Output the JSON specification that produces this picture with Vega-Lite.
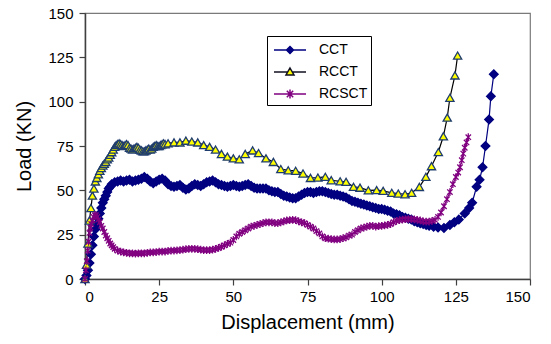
{
  "$schema": "https://vega.github.io/schema/vega-lite/v6.json",
  "width": 445,
  "height": 266,
  "autosize": {"type": "none"},
  "padding": {"left": 85, "top": 13, "right": 21, "bottom": 65},
  "background": "white",
  "config": {
    "view": {"stroke": "#7a7a7a", "strokeWidth": 1.2},
    "axis": {
      "labelFont": "Liberation Sans", "titleFont": "Liberation Sans",
      "labelColor": "#000", "titleColor": "#000",
      "labelFontSize": 15, "titleFontSize": 20, "titleFontWeight": "normal",
      "domainColor": "#404040", "domainWidth": 1.5,
      "tickColor": "#404040", "tickSize": 6, "tickWidth": 1.2,
      "grid": false
    },
    "legend": {"labelFont": "Liberation Sans", "labelFontSize": 14, "labelColor": "#000"}
  },
  "data": {"values": [
    {"s":"CCT","x":0,"y":0},{"s":"CCT","x":0.5,"y":2},{"s":"CCT","x":1,"y":5},{"s":"CCT","x":1.5,"y":9},{"s":"CCT","x":2,"y":14},{"s":"CCT","x":2.5,"y":19},{"s":"CCT","x":3,"y":24},{"s":"CCT","x":3.5,"y":28},{"s":"CCT","x":4,"y":31},{"s":"CCT","x":4.5,"y":34},{"s":"CCT","x":5,"y":37},{"s":"CCT","x":5.5,"y":40},{"s":"CCT","x":6,"y":43},{"s":"CCT","x":6.5,"y":45},{"s":"CCT","x":7,"y":47},{"s":"CCT","x":7.5,"y":49},{"s":"CCT","x":8,"y":51},{"s":"CCT","x":8.5,"y":52},{"s":"CCT","x":9,"y":53.5},{"s":"CCT","x":10,"y":54.5},
    {"s":"CCT","x":11,"y":55},{"s":"CCT","x":12,"y":55.5},{"s":"CCT","x":13,"y":55},{"s":"CCT","x":14,"y":55.5},{"s":"CCT","x":15,"y":56},{"s":"CCT","x":16,"y":55},{"s":"CCT","x":17,"y":55.5},{"s":"CCT","x":18,"y":56},{"s":"CCT","x":19,"y":56.5},{"s":"CCT","x":20,"y":57.5},{"s":"CCT","x":21,"y":56.5},{"s":"CCT","x":22,"y":55},{"s":"CCT","x":23,"y":54},{"s":"CCT","x":24,"y":55},{"s":"CCT","x":25,"y":56},{"s":"CCT","x":26,"y":56.5},{"s":"CCT","x":27,"y":55.5},{"s":"CCT","x":28,"y":53.5},{"s":"CCT","x":29,"y":52.5},{"s":"CCT","x":30,"y":52},
    {"s":"CCT","x":31,"y":52.5},{"s":"CCT","x":32,"y":53},{"s":"CCT","x":33,"y":51.5},{"s":"CCT","x":34,"y":50.5},{"s":"CCT","x":35,"y":51},{"s":"CCT","x":36,"y":52.5},{"s":"CCT","x":37,"y":53.5},{"s":"CCT","x":38,"y":53},{"s":"CCT","x":39,"y":52.5},{"s":"CCT","x":40,"y":53.5},{"s":"CCT","x":41,"y":54.5},{"s":"CCT","x":42,"y":55},{"s":"CCT","x":43,"y":55.5},{"s":"CCT","x":44,"y":54.5},{"s":"CCT","x":45,"y":53.5},{"s":"CCT","x":46,"y":53},{"s":"CCT","x":47,"y":52.5},{"s":"CCT","x":48,"y":52},{"s":"CCT","x":49,"y":52.5},{"s":"CCT","x":50,"y":53},
    {"s":"CCT","x":51,"y":52.5},{"s":"CCT","x":52,"y":52},{"s":"CCT","x":53,"y":52.5},{"s":"CCT","x":54,"y":53},{"s":"CCT","x":55,"y":53.5},{"s":"CCT","x":56,"y":52.5},{"s":"CCT","x":57,"y":51.5},{"s":"CCT","x":58,"y":51},{"s":"CCT","x":59,"y":51},{"s":"CCT","x":60,"y":51},{"s":"CCT","x":61,"y":51},{"s":"CCT","x":62,"y":50},{"s":"CCT","x":63,"y":49.5},{"s":"CCT","x":64,"y":49},{"s":"CCT","x":65,"y":49},{"s":"CCT","x":66,"y":48},{"s":"CCT","x":67,"y":47},{"s":"CCT","x":68,"y":46.5},{"s":"CCT","x":69,"y":46},{"s":"CCT","x":70,"y":45.5},
    {"s":"CCT","x":71,"y":45.5},{"s":"CCT","x":72,"y":46.5},{"s":"CCT","x":73,"y":47.5},{"s":"CCT","x":74,"y":48.5},{"s":"CCT","x":75,"y":49},{"s":"CCT","x":76,"y":49},{"s":"CCT","x":77,"y":48.5},{"s":"CCT","x":78,"y":49},{"s":"CCT","x":79,"y":49.5},{"s":"CCT","x":80,"y":49.5},{"s":"CCT","x":81,"y":49},{"s":"CCT","x":82,"y":48.5},{"s":"CCT","x":83,"y":48},{"s":"CCT","x":84,"y":47.5},{"s":"CCT","x":85,"y":47.5},{"s":"CCT","x":86,"y":47},{"s":"CCT","x":87,"y":46.5},{"s":"CCT","x":88,"y":46},{"s":"CCT","x":89,"y":45},{"s":"CCT","x":90,"y":44},
    {"s":"CCT","x":91,"y":43.5},{"s":"CCT","x":92,"y":43},{"s":"CCT","x":93,"y":42.5},{"s":"CCT","x":94,"y":42},{"s":"CCT","x":95,"y":41.5},{"s":"CCT","x":96,"y":41},{"s":"CCT","x":97,"y":40.5},{"s":"CCT","x":98,"y":40},{"s":"CCT","x":99,"y":39.5},{"s":"CCT","x":100,"y":39.5},{"s":"CCT","x":101,"y":39},{"s":"CCT","x":102,"y":38.5},{"s":"CCT","x":103,"y":38},{"s":"CCT","x":104,"y":37},{"s":"CCT","x":105,"y":36.5},{"s":"CCT","x":106,"y":36},{"s":"CCT","x":107,"y":35},{"s":"CCT","x":108,"y":34.5},{"s":"CCT","x":109,"y":34},{"s":"CCT","x":110,"y":33.5},
    {"s":"CCT","x":111,"y":32.5},{"s":"CCT","x":112,"y":32},{"s":"CCT","x":113,"y":31.5},{"s":"CCT","x":114,"y":31},{"s":"CCT","x":115,"y":30.5},{"s":"CCT","x":116,"y":30},{"s":"CCT","x":117.5,"y":29.5},{"s":"CCT","x":119,"y":29},{"s":"CCT","x":121,"y":28.8},{"s":"CCT","x":123,"y":30.5},{"s":"CCT","x":124.5,"y":32},{"s":"CCT","x":126,"y":33.5},{"s":"CCT","x":128,"y":37},{"s":"CCT","x":129.5,"y":40},{"s":"CCT","x":130.5,"y":43},{"s":"CCT","x":132,"y":52},{"s":"CCT","x":133,"y":56},{"s":"CCT","x":134,"y":63},{"s":"CCT","x":135,"y":75},{"s":"CCT","x":136.2,"y":90},{"s":"CCT","x":136.8,"y":103},{"s":"CCT","x":137.8,"y":115.5},

    {"s":"RCCT","x":0,"y":0},{"s":"RCCT","x":0.5,"y":8},{"s":"RCCT","x":1,"y":20},{"s":"RCCT","x":1.5,"y":33},{"s":"RCCT","x":2,"y":40},{"s":"RCCT","x":2.5,"y":47},{"s":"RCCT","x":3,"y":51},{"s":"RCCT","x":3.5,"y":55},{"s":"RCCT","x":4,"y":57},{"s":"RCCT","x":4.5,"y":59},{"s":"RCCT","x":5,"y":61},{"s":"RCCT","x":5.5,"y":62.5},{"s":"RCCT","x":6,"y":64},{"s":"RCCT","x":6.5,"y":65},{"s":"RCCT","x":7,"y":66},{"s":"RCCT","x":7.5,"y":67.5},{"s":"RCCT","x":8,"y":68.5},{"s":"RCCT","x":8.5,"y":70},{"s":"RCCT","x":9,"y":71.5},{"s":"RCCT","x":9.5,"y":73},
    {"s":"RCCT","x":10,"y":74.5},{"s":"RCCT","x":10.5,"y":75.5},{"s":"RCCT","x":11,"y":76},{"s":"RCCT","x":11.5,"y":76.5},{"s":"RCCT","x":12,"y":76},{"s":"RCCT","x":12.5,"y":75.5},{"s":"RCCT","x":13,"y":75},{"s":"RCCT","x":13.5,"y":75.5},{"s":"RCCT","x":14,"y":76},{"s":"RCCT","x":14.5,"y":75.5},{"s":"RCCT","x":15,"y":74},{"s":"RCCT","x":15.5,"y":73.5},{"s":"RCCT","x":16,"y":73},{"s":"RCCT","x":16.5,"y":73.5},{"s":"RCCT","x":17,"y":74},{"s":"RCCT","x":17.5,"y":74.5},{"s":"RCCT","x":18,"y":74},{"s":"RCCT","x":18.5,"y":73},{"s":"RCCT","x":19,"y":72.5},{"s":"RCCT","x":19.5,"y":72},
    {"s":"RCCT","x":20,"y":72},{"s":"RCCT","x":20.5,"y":72.5},{"s":"RCCT","x":21,"y":73},{"s":"RCCT","x":21.5,"y":73.5},{"s":"RCCT","x":22,"y":73},{"s":"RCCT","x":22.5,"y":73.5},{"s":"RCCT","x":23,"y":74.5},{"s":"RCCT","x":23.5,"y":75},{"s":"RCCT","x":24,"y":75.5},{"s":"RCCT","x":24.5,"y":75},{"s":"RCCT","x":25,"y":75},{"s":"RCCT","x":25.5,"y":75.5},{"s":"RCCT","x":26,"y":76},{"s":"RCCT","x":26.5,"y":76.5},{"s":"RCCT","x":27,"y":76},{"s":"RCCT","x":28,"y":76.5},{"s":"RCCT","x":30,"y":77},{"s":"RCCT","x":32,"y":77},{"s":"RCCT","x":34,"y":78},{"s":"RCCT","x":36,"y":77.5},
    {"s":"RCCT","x":38,"y":77},{"s":"RCCT","x":40,"y":75.5},{"s":"RCCT","x":42,"y":74.5},{"s":"RCCT","x":44,"y":73},{"s":"RCCT","x":46,"y":70.5},{"s":"RCCT","x":48,"y":69},{"s":"RCCT","x":50,"y":68},{"s":"RCCT","x":52,"y":67.5},{"s":"RCCT","x":54,"y":70.5},{"s":"RCCT","x":56.5,"y":72.5},{"s":"RCCT","x":58.5,"y":71},{"s":"RCCT","x":61,"y":68},{"s":"RCCT","x":63.5,"y":66},{"s":"RCCT","x":66,"y":62},{"s":"RCCT","x":68.5,"y":61.3},{"s":"RCCT","x":71,"y":61},{"s":"RCCT","x":73.5,"y":59.5},{"s":"RCCT","x":76,"y":57},{"s":"RCCT","x":78.5,"y":57.2},{"s":"RCCT","x":81,"y":57.6},
    {"s":"RCCT","x":83,"y":55.7},{"s":"RCCT","x":86,"y":55.1},{"s":"RCCT","x":88,"y":54.8},{"s":"RCCT","x":90.5,"y":52},{"s":"RCCT","x":92.7,"y":51.5},{"s":"RCCT","x":95.5,"y":50},{"s":"RCCT","x":98.3,"y":50.1},{"s":"RCCT","x":100.5,"y":49.7},{"s":"RCCT","x":103.4,"y":48.6},{"s":"RCCT","x":105.6,"y":48.2},{"s":"RCCT","x":107.9,"y":47.8},{"s":"RCCT","x":110.1,"y":48.6},{"s":"RCCT","x":112.7,"y":51.9},{"s":"RCCT","x":114.9,"y":57.6},{"s":"RCCT","x":116.8,"y":63.6},{"s":"RCCT","x":119.1,"y":71.6},{"s":"RCCT","x":120.8,"y":80.5},{"s":"RCCT","x":122.1,"y":91},{"s":"RCCT","x":123,"y":102.2},{"s":"RCCT","x":124.7,"y":114.8},{"s":"RCCT","x":125.6,"y":126},

    {"s":"RCSCT","x":0,"y":0},{"s":"RCSCT","x":0.3,"y":5},{"s":"RCSCT","x":0.6,"y":10},{"s":"RCSCT","x":0.9,"y":16},{"s":"RCSCT","x":1.2,"y":21},{"s":"RCSCT","x":1.5,"y":26},{"s":"RCSCT","x":1.8,"y":29},{"s":"RCSCT","x":2.1,"y":31},{"s":"RCSCT","x":2.5,"y":33},{"s":"RCSCT","x":2.9,"y":35},{"s":"RCSCT","x":3.3,"y":36},{"s":"RCSCT","x":3.7,"y":36},{"s":"RCSCT","x":4.1,"y":35},{"s":"RCSCT","x":4.5,"y":33.5},{"s":"RCSCT","x":5,"y":32},{"s":"RCSCT","x":5.5,"y":30},{"s":"RCSCT","x":6,"y":28.5},{"s":"RCSCT","x":6.5,"y":26.5},{"s":"RCSCT","x":7,"y":24.5},{"s":"RCSCT","x":7.5,"y":23},
    {"s":"RCSCT","x":8,"y":21.5},{"s":"RCSCT","x":8.5,"y":20},{"s":"RCSCT","x":9,"y":19},{"s":"RCSCT","x":9.5,"y":18},{"s":"RCSCT","x":10,"y":17},{"s":"RCSCT","x":11,"y":16},{"s":"RCSCT","x":12,"y":15.5},{"s":"RCSCT","x":13,"y":15},{"s":"RCSCT","x":14,"y":14.8},{"s":"RCSCT","x":15,"y":14.5},{"s":"RCSCT","x":16,"y":14.5},{"s":"RCSCT","x":17,"y":14.3},{"s":"RCSCT","x":18,"y":14.5},{"s":"RCSCT","x":19,"y":14.5},{"s":"RCSCT","x":20,"y":14.5},{"s":"RCSCT","x":21,"y":14.8},{"s":"RCSCT","x":22,"y":15},{"s":"RCSCT","x":23,"y":15},{"s":"RCSCT","x":24,"y":15.2},{"s":"RCSCT","x":25,"y":15.4},
    {"s":"RCSCT","x":26,"y":15.5},{"s":"RCSCT","x":27,"y":15.5},{"s":"RCSCT","x":28,"y":15.8},{"s":"RCSCT","x":29,"y":16},{"s":"RCSCT","x":30,"y":16},{"s":"RCSCT","x":31,"y":16.2},{"s":"RCSCT","x":32,"y":16.3},{"s":"RCSCT","x":33,"y":16.5},{"s":"RCSCT","x":34,"y":16.8},{"s":"RCSCT","x":35,"y":17},{"s":"RCSCT","x":36,"y":17},{"s":"RCSCT","x":37,"y":17},{"s":"RCSCT","x":38,"y":16.8},{"s":"RCSCT","x":39,"y":16.5},{"s":"RCSCT","x":40,"y":16.3},{"s":"RCSCT","x":41,"y":16.3},{"s":"RCSCT","x":42,"y":16.3},{"s":"RCSCT","x":43,"y":16.5},{"s":"RCSCT","x":44,"y":17},{"s":"RCSCT","x":45,"y":17.5},
    {"s":"RCSCT","x":46,"y":18.2},{"s":"RCSCT","x":47,"y":19},{"s":"RCSCT","x":48,"y":19.8},{"s":"RCSCT","x":49,"y":20.5},{"s":"RCSCT","x":50,"y":22},{"s":"RCSCT","x":51,"y":24},{"s":"RCSCT","x":52,"y":25.5},{"s":"RCSCT","x":53,"y":26.5},{"s":"RCSCT","x":54,"y":27.5},{"s":"RCSCT","x":55,"y":28.5},{"s":"RCSCT","x":56,"y":29.5},{"s":"RCSCT","x":57,"y":30},{"s":"RCSCT","x":58,"y":30.5},{"s":"RCSCT","x":59,"y":31},{"s":"RCSCT","x":60,"y":31.5},{"s":"RCSCT","x":61,"y":32},{"s":"RCSCT","x":62,"y":32},{"s":"RCSCT","x":63,"y":32},{"s":"RCSCT","x":64,"y":31.5},{"s":"RCSCT","x":65,"y":31.5},
    {"s":"RCSCT","x":66,"y":32},{"s":"RCSCT","x":67,"y":32.5},{"s":"RCSCT","x":68,"y":33},{"s":"RCSCT","x":69,"y":33.2},{"s":"RCSCT","x":70,"y":33.3},{"s":"RCSCT","x":71,"y":33.2},{"s":"RCSCT","x":72,"y":32.5},{"s":"RCSCT","x":73,"y":32},{"s":"RCSCT","x":74,"y":31.5},{"s":"RCSCT","x":75,"y":30.5},{"s":"RCSCT","x":76,"y":29.5},{"s":"RCSCT","x":77,"y":28.5},{"s":"RCSCT","x":78,"y":27},{"s":"RCSCT","x":79,"y":25.7},{"s":"RCSCT","x":80,"y":24},{"s":"RCSCT","x":81,"y":23},{"s":"RCSCT","x":82,"y":22.7},{"s":"RCSCT","x":83,"y":22.5},{"s":"RCSCT","x":84,"y":22.3},{"s":"RCSCT","x":85,"y":22.3},
    {"s":"RCSCT","x":86,"y":22.5},{"s":"RCSCT","x":87,"y":23},{"s":"RCSCT","x":88,"y":23.5},{"s":"RCSCT","x":89,"y":24.5},{"s":"RCSCT","x":90,"y":25},{"s":"RCSCT","x":91,"y":26.5},{"s":"RCSCT","x":92,"y":27.5},{"s":"RCSCT","x":93,"y":28.5},{"s":"RCSCT","x":94,"y":29},{"s":"RCSCT","x":95,"y":29.5},{"s":"RCSCT","x":96,"y":30},{"s":"RCSCT","x":97,"y":30},{"s":"RCSCT","x":98,"y":29.5},{"s":"RCSCT","x":99,"y":29.8},{"s":"RCSCT","x":100,"y":30},{"s":"RCSCT","x":101,"y":30.2},{"s":"RCSCT","x":102,"y":30.5},{"s":"RCSCT","x":103,"y":31},{"s":"RCSCT","x":104,"y":32},{"s":"RCSCT","x":105,"y":32.8},
    {"s":"RCSCT","x":106,"y":33.2},{"s":"RCSCT","x":107,"y":33.5},{"s":"RCSCT","x":108,"y":33.7},{"s":"RCSCT","x":109,"y":33.8},{"s":"RCSCT","x":110,"y":33.8},{"s":"RCSCT","x":111,"y":33.6},{"s":"RCSCT","x":112,"y":33.3},{"s":"RCSCT","x":113,"y":33},{"s":"RCSCT","x":114,"y":32.5},{"s":"RCSCT","x":115,"y":32.3},{"s":"RCSCT","x":116,"y":32.4},{"s":"RCSCT","x":117,"y":32.8},{"s":"RCSCT","x":118,"y":33.3},{"s":"RCSCT","x":119,"y":35},{"s":"RCSCT","x":120,"y":37.5},{"s":"RCSCT","x":121,"y":41},{"s":"RCSCT","x":122,"y":45},{"s":"RCSCT","x":123,"y":49},{"s":"RCSCT","x":124,"y":53.5},{"s":"RCSCT","x":125,"y":57.5},
    {"s":"RCSCT","x":125.8,"y":60},{"s":"RCSCT","x":126.4,"y":63},{"s":"RCSCT","x":127,"y":67},{"s":"RCSCT","x":127.5,"y":70.7},{"s":"RCSCT","x":128,"y":74},{"s":"RCSCT","x":128.6,"y":77},{"s":"RCSCT","x":129.2,"y":80}
  ]},
  "encoding": {
    "x": {"field": "x", "type": "quantitative", "title": "Displacement (mm)",
      "scale": {"domain": [0, 150], "nice": false},
      "axis": {"values": [0, 25, 50, 75, 100, 125, 150], "labelPadding": 4, "titlePadding": 8}},
    "y": {"field": "y", "type": "quantitative", "title": "Load (KN)",
      "scale": {"domain": [0, 150], "nice": false},
      "axis": {"values": [0, 25, 50, 75, 100, 125, 150], "labelPadding": 6, "titlePadding": 13}}
  },
  "layer": [
    {
      "mark": {"type": "line", "strokeWidth": 1.2},
      "encoding": {
        "color": {"field": "s", "type": "nominal", "legend": null,
          "scale": {"domain": ["CCT", "RCCT", "RCSCT"], "range": ["#000080", "#000000", "#800080"]}},
        "order": {"field": "x", "type": "quantitative"}
      }
    },
    {
      "mark": {"type": "point", "strokeWidth": 1.3, "opacity": 1},
      "encoding": {
        "shape": {"field": "s", "type": "nominal", "legend": null,
          "scale": {"domain": ["CCT", "RCCT", "RCSCT"], "range": ["diamond", "triangle-up", "M-0.7,-0.7L0.7,0.7M-0.7,0.7L0.7,-0.7M0,-1L0,1"]}},
        "size": {"field": "s", "type": "nominal", "legend": null,
          "scale": {"domain": ["CCT", "RCCT", "RCSCT"], "range": [75, 60, 70]}},
        "fill": {"field": "s", "type": "nominal", "legend": null,
          "scale": {"domain": ["CCT", "RCCT", "RCSCT"], "range": ["#000080", "#ffff00", "#800080"]}},
        "stroke": {"field": "s", "type": "nominal", "legend": null,
          "scale": {"domain": ["CCT", "RCCT", "RCSCT"], "range": ["#000080", "#1f3c6e", "#800080"]}}
      }
    },
    {
      "transform": [{"filter": "datum.x < -1"}],
      "mark": {"type": "point", "strokeWidth": 1.5, "opacity": 1},
      "encoding": {
        "shape": {"field": "s", "type": "nominal", "title": null,
          "scale": {"domain": ["CCT", "RCCT", "RCSCT"], "range": [
            "M-1.6,0L-0.35,0M0.35,0L1.6,0M0,-0.35L0.35,0L0,0.35L-0.35,0Z",
            "M-1.6,0L-0.23,0M0.23,0L1.6,0M0,-0.4L0.4,0.3L-0.4,0.3Z",
            "M-1.6,0L1.6,0M-0.32,-0.32L0.32,0.32M-0.32,0.32L0.32,-0.32M0,-0.45L0,0.45"]},
          "legend": {"orient": "none", "legendX": 182, "legendY": 23, "symbolSize": 400, "symbolOffset": 9,
            "strokeColor": "#000", "fillColor": "#fff", "padding": 3, "labelOffset": 18, "rowPadding": 4}},
        "fill": {"field": "s", "type": "nominal", "title": null,
          "scale": {"domain": ["CCT", "RCCT", "RCSCT"], "range": ["#000080", "#ffff00", "#800080"]},
          "legend": {"orient": "none", "legendX": 182, "legendY": 23, "symbolSize": 400, "symbolOffset": 9,
            "strokeColor": "#000", "fillColor": "#fff", "padding": 3, "labelOffset": 18, "rowPadding": 4}},
        "stroke": {"field": "s", "type": "nominal", "title": null,
          "scale": {"domain": ["CCT", "RCCT", "RCSCT"], "range": ["#000080", "#101020", "#800080"]},
          "legend": {"orient": "none", "legendX": 182, "legendY": 23, "symbolSize": 400, "symbolOffset": 9,
            "strokeColor": "#000", "fillColor": "#fff", "padding": 3, "labelOffset": 18, "rowPadding": 4}}
      }
    }
  ],
  "resolve": {"scale": {"color": "independent", "shape": "independent", "size": "independent", "fill": "independent", "stroke": "independent"}}
}
